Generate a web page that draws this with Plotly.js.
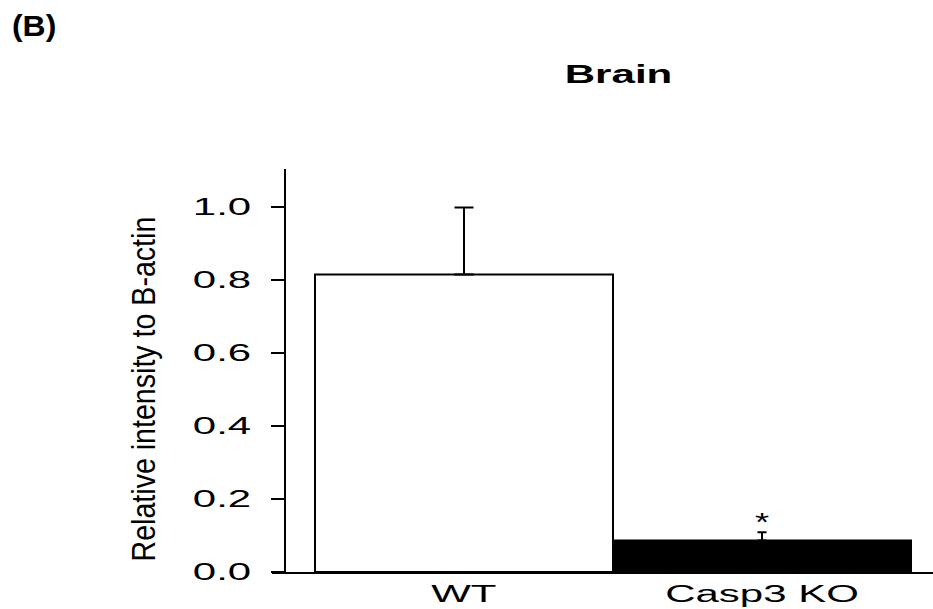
<!DOCTYPE html>
<html>
<head>
<meta charset="utf-8">
<script src="https://cdn.plot.ly/plotly-3.0.1.min.js"></script>
<style>
  html, body { margin: 0; padding: 0; background: #ffffff; }
  #chart { width: 933px; height: 609px; }
</style>
</head>
<body>
<div id="chart"></div>
<script>
// Relative protein level in brain tissue, normalised to B-actin
const categories = ["WT", "Casp3 KO"];
const means = [0.814, 0.086];
const errorsUp = [0.183, 0.023];
const barFills = ["#ffffff", "#000000"];
const capHalfWidths = [9.5, 4.5];
const yTickVals = [0, 0.2, 0.4, 0.6, 0.8, 1.0];
const significance = ["", "*"];

const FONT = "Liberation Sans, Arial, Helvetica, sans-serif";

const traces = categories.map((cat, i) => ({
  type: "bar",
  x: [i],
  y: [means[i]],
  width: [1.0],
  marker: { color: barFills[i], line: { color: "#000000", width: 2 } },
  error_y: {
    type: "data",
    symmetric: false,
    array: [errorsUp[i]],
    arrayminus: [0],
    color: "#000000",
    thickness: 2,
    width: capHalfWidths[i]
  },
  hoverinfo: "skip",
  showlegend: false
}));

// significance markers sit just above each upper error bar
const starNotes = significance
  .map((s, i) => ({ s, i }))
  .filter(d => d.s)
  .map(d => ({
    xref: "x", yref: "y",
    x: d.i, y: means[d.i] + errorsUp[d.i],
    text: d.s, showarrow: false,
    xanchor: "center", yanchor: "bottom",
    yshift: -7,
    font: { family: FONT, size: 26, color: "#000000" }
  }));

const layout = {
  width: 933,
  height: 609,
  margin: { l: 272, r: 0, t: 169, b: 37, pad: 0 },
  paper_bgcolor: "#ffffff",
  plot_bgcolor: "#ffffff",
  font: { family: FONT, color: "#000000" },
  title: {
    text: "<b>Brain</b>",
    xref: "container", yref: "container",
    x: 618.5 / 933, y: 1 - 74 / 609,
    xanchor: "center", yanchor: "middle",
    font: { family: FONT, size: 26, color: "#000000" }
  },
  bargap: 0,
  xaxis: {
    range: [-0.6443, 1.5738],
    tickvals: categories.map((_, i) => i),
    ticktext: categories,
    ticks: "",
    showline: true,
    linecolor: "#000000",
    linewidth: 2,
    showgrid: false,
    zeroline: false,
    ticklabelstandoff: -1,
    tickfont: { family: FONT, size: 24, color: "#000000" },
    fixedrange: true
  },
  yaxis: {
    range: [0, 1.1026],
    anchor: "free",
    position: 13 / 661,
    tickvals: yTickVals,
    tickformat: ".1f",
    ticks: "outside",
    ticklen: 13,
    tickwidth: 2,
    tickcolor: "#000000",
    showline: true,
    linecolor: "#000000",
    linewidth: 2,
    showgrid: false,
    zeroline: false,
    ticklabelstandoff: 15,
    tickfont: { family: FONT, size: 24, color: "#000000" },
    fixedrange: true
  },
  annotations: [
    {
      xref: "paper", yref: "paper",
      x: (143 - 272) / 661, y: (572 - 389.5) / 403,
      text: "Relative intensity to B-actin",
      textangle: -90,
      showarrow: false,
      xanchor: "center", yanchor: "middle",
      font: { family: FONT, size: 28.6, color: "#000000" }
    },
    {
      xref: "paper", yref: "paper",
      x: -262 / 661, y: (572 - 8) / 403,
      text: "<b>(B)</b>",
      showarrow: false,
      xanchor: "left", yanchor: "top",
      font: { family: FONT, size: 29, color: "#000000" }
    }
  ].concat(starNotes)
};

// stretch label glyphs along one direction about a fixed anchor point
function widen(el, factor, anchor) {
  const bb = el.getBBox();
  const ax = anchor === "end" ? bb.x + bb.width
           : anchor === "start" ? bb.x
           : bb.x + bb.width / 2;
  const prev = el.getAttribute("transform") || "";
  el.setAttribute("transform",
    prev + " translate(" + ax + ",0) scale(" + factor + ",1) translate(" + (-ax) + ",0)");
}
function thicken(el, factor) {
  const bb = el.getBBox();
  const cy = bb.y + bb.height / 2;
  const prev = el.getAttribute("transform") || "";
  el.setAttribute("transform",
    prev + " translate(0," + cy + ") scale(1," + factor + ") translate(0," + (-cy) + ")");
}

Plotly.newPlot("chart", traces, layout, { displayModeBar: false, staticPlot: true })
  .then(gd => {
    gd.querySelectorAll(".ytick text").forEach(t => widen(t, 1.75, "end"));
    gd.querySelectorAll(".xtick text").forEach(t => widen(t, 1.75, "middle"));
    gd.querySelectorAll(".gtitle").forEach(t => widen(t, 1.62, "middle"));
    gd.querySelectorAll(".annotation-text").forEach(t => {
      const s = t.textContent;
      if (s === "*") widen(t, 1.4, "middle");
      else if (s === "(B)") widen(t, 1.1, "start");
      else if (s.indexOf("Relative") === 0) thicken(t, 1.17);
    });
  });
</script>
</body>
</html>
